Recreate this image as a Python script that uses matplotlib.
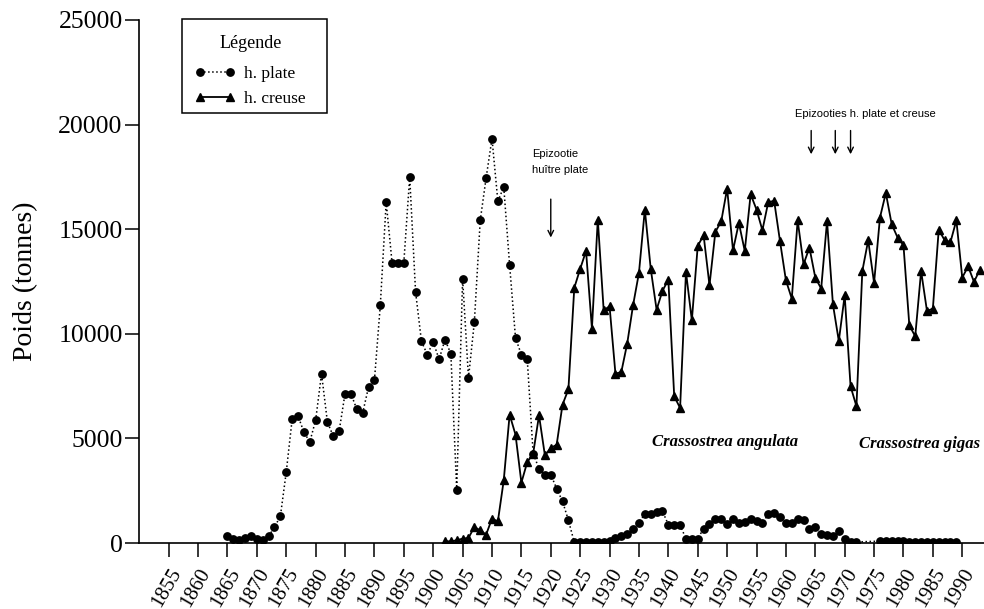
import numpy as np
import matplotlib
matplotlib.use("Agg")
import matplotlib.pyplot as plt
from matplotlib.patches import Rectangle

# h. plate (huitre plate), tonnes
plate_years = list(range(1865, 1973)) + list(range(1976, 1990))
plate_vals = [320, 210, 130, 260, 320, 210, 130, 320, 765, 1275,          # 1865-1874
              3395, 5910, 6070, 5305, 4830, 5865, 8095, 5785, 5100, 5355,  # 1875-1884
              7140, 7140, 6390, 6215, 7460, 7780, 11365, 16300, 13400, 13400,  # 1885-1894
              13400, 17500, 12000, 9640, 9005, 9610, 8780, 9720, 9050, 2520,   # 1895-1904
              12640, 7890, 10565, 15425, 17450, 19330, 16335, 17020, 13275, 9800,  # 1905-1914
              9005, 8780, 4275, 3555, 3270, 3270, 2600, 1990, 1085, 30,    # 1915-1924
              30, 30, 30, 30, 40, 97, 255, 320, 450, 690,                  # 1925-1934
              960, 1400, 1400, 1465, 1515, 880, 845, 845, 210, 210,        # 1935-1944
              210, 690, 925, 1165, 1165, 925, 1165, 960, 1000, 1165,       # 1945-1954
              1045, 960, 1370, 1435, 1245, 960, 960, 1165, 1085, 670,      # 1955-1964
              765, 450, 400, 335, 550, 200, 60, 50,                        # 1965-1972
              90, 100, 110, 100, 80, 70, 70, 70, 70, 70, 70, 70, 70, 70]   # 1976-1989

# h. creuse, tonnes
creuse_years = list(range(1902, 1994))
creuse_vals = [80, 80, 130, 210, 240, 765, 605, 400,                      # 1902-1909
               1165, 1035, 3000, 6135, 5180, 2885, 3870, 4270, 6100, 4190,  # 1910-1919
               4540, 4700, 6615, 7345, 12200, 13100, 13960, 10250, 15460, 11125,  # 1920-1929
               11315, 8095, 8175, 9530, 11365, 12910, 15940, 13115, 11155, 12050,  # 1930-1939
               12590, 7010, 6455, 12955, 10645, 14200, 14710, 12320, 14870, 15380,  # 1940-1949
               16940, 13990, 15300, 13960, 16670, 15940, 14950, 16300, 16350, 14420,  # 1950-1959
               12560, 11680, 15425, 13320, 14120, 12685, 12160, 15390, 11410, 9655,   # 1960-1969
               11840, 7490, 6535, 13000, 14470, 12430, 15555, 16730, 15235, 14600,    # 1970-1979
               14235, 10400, 9880, 13000, 11090, 11205, 14980, 14470, 14390, 15425,   # 1980-1989
               12685, 13225, 12480, 13070]                                             # 1990-1993

tick_years = list(range(1855, 1991, 5))
epiz_plate_year = 1920
epiz_both_years = [1964.3, 1968.4, 1971.0]

serif = "Liberation Serif"
sans = "Liberation Sans"

fig = plt.figure(figsize=(9.84, 6.09), dpi=100)
ax = fig.add_axes([139.3/984, 66/609, 1 - 139.3/984, (543 - 20)/609])

ax.plot(plate_years, plate_vals, color="black", linestyle=":", linewidth=1.1,
        marker="o", markersize=5.3, label="h. plate")
ax.plot(creuse_years, creuse_vals, color="black", linestyle="-", linewidth=1.3,
        marker="^", markersize=5.3, label="h. creuse")

ax.set_xlim(1850, 1993.7)
ax.set_ylim(0, 25000)

for s in ["top", "right"]:
    ax.spines[s].set_visible(False)
ax.spines["left"].set_linewidth(1.2)
ax.spines["bottom"].set_linewidth(1.2)

ax.set_yticks([0, 5000, 10000, 15000, 20000, 25000])
ax.set_yticklabels(["0", "5000", "10000", "15000", "20000", "25000"],
                   fontfamily=serif, fontsize=18.5)
ax.set_xticks(tick_years)
ax.set_xticklabels([str(y) for y in tick_years], fontfamily=serif, fontsize=15,
                   rotation=60, ha="right", va="top", rotation_mode="anchor")
ax.tick_params(axis="both", direction="out", length=10, width=1.1, color="black")
ax.tick_params(axis="y", pad=2)
ax.tick_params(axis="x", pad=6)

ax.set_ylabel("Poids (tonnes)", fontfamily=serif, fontsize=20)
ax.yaxis.set_label_coords(-0.12, 0.5)

# legend: contents from the library, frame drawn separately
leg = ax.legend(title="Légende", loc="upper left",
                bbox_to_anchor=(195/984, 1 - 35/609),
                bbox_transform=fig.transFigure, numpoints=2,
                prop={"family": serif, "size": 12.5},
                title_fontproperties={"family": serif, "size": 13},
                frameon=False, handlelength=2.3, borderpad=0,
                labelspacing=0.5, handletextpad=0.55, borderaxespad=0)
leg._legend_box.sep = 10
frame = Rectangle((181.7/984, 1 - 113.3/609), (326.7 - 181.7)/984, 94/609,
                  transform=fig.transFigure, fill=False, edgecolor="black",
                  linewidth=1.1)
fig.add_artist(frame)

# annotations
ax.text(1916.8, 18220, "Epizootie\nhuître plate", fontfamily=sans, fontsize=8,
        ha="left", va="center", linespacing=1.8)
ax.annotate("", xy=(epiz_plate_year, 14470), xytext=(epiz_plate_year, 16570),
            arrowprops=dict(arrowstyle="->", color="black", lw=1.0))
ax.text(1973.5, 20500, "Epizooties h. plate et creuse", fontfamily=sans,
        fontsize=8, ha="center", va="center")
for yr in epiz_both_years:
    ax.annotate("", xy=(yr, 18450), xytext=(yr, 19850),
                arrowprops=dict(arrowstyle="->", color="black", lw=1.0))

ax.text(1937.3, 4850, "Crassostrea angulata", fontfamily=serif, fontsize=12,
        fontstyle="italic", fontweight="bold", ha="left", va="center")
ax.text(1972.5, 4750, "Crassostrea gigas", fontfamily=serif, fontsize=12,
        fontstyle="italic", fontweight="bold", ha="left", va="center")

fig.savefig("out.png", dpi=100)
